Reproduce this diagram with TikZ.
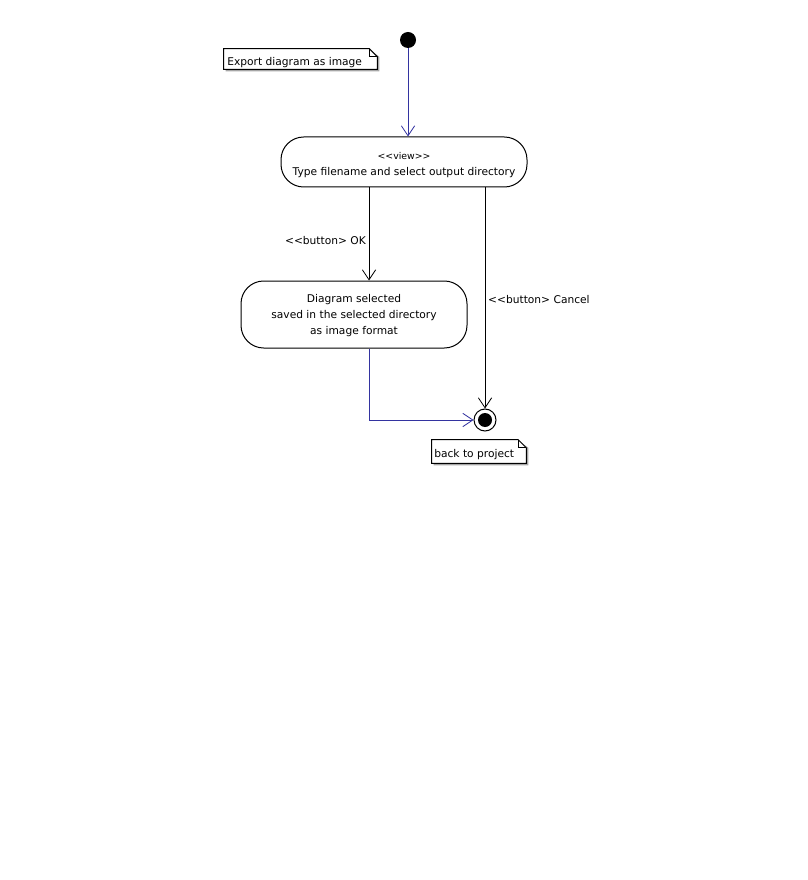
\documentclass[tikz,border=0pt]{standalone}
\usepackage{fontspec}
\setmainfont{DejaVu Sans}
\usetikzlibrary{arrows.meta,backgrounds}
\definecolor{flowblue}{RGB}{51,51,160}
\tikzset{
  every picture/.style={x=0.75pt,y=-0.75pt},
  txt/.style={font=\fontsize{8}{12}\selectfont},
  action/.style={txt,draw,line width=0.75pt,rounded corners=17pt,align=center,inner sep=0pt},
  notebox/.style={txt,inner sep=0pt,anchor=center},
  flow/.style={line width=0.75pt,-{Straight Barb[length=7.5pt,width=10pt,line width=0.6pt]}},
  startdot/.style={circle,fill=black,minimum size=12pt,inner sep=0pt},
  endring/.style={circle,draw,line width=0.75pt,fill=white,minimum size=16.5pt,inner sep=0pt},
  enddot/.style={circle,fill=black,minimum size=10.5pt,inner sep=0pt},
}
% folded-corner note outline with a soft drop shadow, drawn behind the text
\newcommand{\notefold}[1]{%
  \begin{pgfonlayer}{background}
    \fill[black!35] ([shift={(2,2)}]#1.north west) -- ([shift={(-6,2)}]#1.north east)
      -- ([shift={(2,8)}]#1.north east) -- ([shift={(2,2)}]#1.south east)
      -- ([shift={(2,2)}]#1.south west) -- cycle;
    \filldraw[fill=white,line width=0.75pt] (#1.north west) -- ([xshift=-6pt]#1.north east)
      -- ([yshift=-6pt]#1.north east) -- (#1.south east) -- (#1.south west) -- cycle;
    \draw[line width=0.6pt] ([xshift=-6pt]#1.north east) |- ([yshift=-6pt]#1.north east);
  \end{pgfonlayer}}
\begin{document}
\begin{tikzpicture}
\useasboundingbox (0,0) rectangle (807,880);

% nodes
\node[startdot] (init) at (408,40) {};
\node[action,minimum width=184.5pt,minimum height=37.5pt] (view) at (404,162) {};
\node[txt,align=center] (viewtext) at (404,165) {{\fontsize{7}{12}\selectfont<{}<view>{}>}\\Type filename and select output directory};
\node[action,minimum width=169.5pt,minimum height=50.25pt] (save) at (354,314.5) {};
\node[txt,align=center] (savetext) at (354,316) {Diagram selected\\saved in the selected directory\\as image format};
\node[endring] (final) at (485,420) {};
\node[enddot] (finaldot) at (final.center) {};

\node[notebox,minimum width=114.75pt,minimum height=15pt] (note1) at (300.5,59) {};
\node[txt,anchor=west,inner sep=0pt] (note1text) at (227,63) {Export diagram as image};
\node[notebox,minimum width=70.5pt,minimum height=17.25pt] (note2) at (479,451.5) {};
\node[txt,anchor=west,inner sep=0pt] (note2text) at (434,455) {back to project};
\notefold{note1}
\notefold{note2}

\coordinate (okx) at (369,0);

% connectors
\draw[flow,flowblue] (init) -- (view.north -| init);
\draw[flow] (view.south -| okx) -- node[txt,left,inner sep=2pt,pos=0.565] {<{}<button> OK} (save.north -| okx);
\draw[flow] (view.south -| final) -- node[txt,right,inner sep=2pt,pos=0.505] {<{}<button> Cancel} (final.north);
\draw[flow,flowblue] (save.south -| okx) |- (final.west);

\end{tikzpicture}
\end{document}
